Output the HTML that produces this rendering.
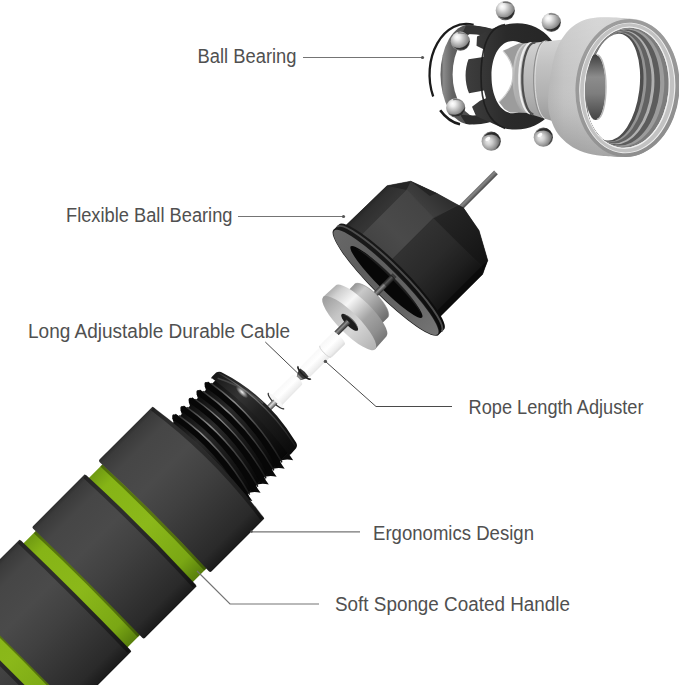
<!DOCTYPE html>
<html lang="en">
<head>
<meta charset="utf-8">
<title>Jump Rope Handle Features</title>
<style>
  html, body { margin: 0; padding: 0; background: #ffffff; }
  body { width: 679px; height: 685px; overflow: hidden; position: relative; }
  svg { position: absolute; left: 0; top: 0; display: block; }
  .lbl { font-family: "Liberation Sans", sans-serif; font-size: 19.5px; fill: #505050; }
  .ln { stroke: #747474; stroke-width: 1.2; fill: none; }
  .dot { fill: #555; }
</style>
</head>
<body>
<svg width="679" height="685" viewBox="0 0 679 685">
<defs>
<!--DEFS-->
<radialGradient id="gBall" cx="0.4" cy="0.56" r="0.62" fx="0.36" fy="0.5">
  <stop offset="0" stop-color="#ececec"/><stop offset="0.3" stop-color="#cfcfcf"/>
  <stop offset="0.62" stop-color="#9a9a9a"/><stop offset="0.86" stop-color="#6c6c6c"/><stop offset="1" stop-color="#3a3a3a"/>
</radialGradient>
<radialGradient id="gBallB" cx="0.4" cy="0.36" r="0.7" fx="0.33" fy="0.28">
  <stop offset="0" stop-color="#ffffff"/><stop offset="0.2" stop-color="#eeeeee"/>
  <stop offset="0.5" stop-color="#b8b8b8"/><stop offset="0.78" stop-color="#858585"/><stop offset="1" stop-color="#444444"/>
</radialGradient>
<linearGradient id="gRace" gradientUnits="userSpaceOnUse" x1="440" y1="0" x2="470" y2="0">
  <stop offset="0" stop-color="#505050"/><stop offset="0.12" stop-color="#8a8a8a"/><stop offset="0.4" stop-color="#646464"/><stop offset="1" stop-color="#484848"/>
</linearGradient>
<linearGradient id="gCage" gradientUnits="userSpaceOnUse" x1="465" y1="0" x2="548" y2="0">
  <stop offset="0" stop-color="#3e3e3e"/><stop offset="0.25" stop-color="#353535"/><stop offset="0.5" stop-color="#2a2a2a"/><stop offset="1" stop-color="#262626"/>
</linearGradient>
<linearGradient id="gNeck" gradientUnits="userSpaceOnUse" x1="0" y1="40" x2="0" y2="121">
  <stop offset="0" stop-color="#d4d4d4"/><stop offset="0.3" stop-color="#c2c2c2"/><stop offset="0.7" stop-color="#b0b0b0"/><stop offset="1" stop-color="#9a9a9a"/>
</linearGradient>
<linearGradient id="gHousing" gradientUnits="userSpaceOnUse" x1="545" y1="0" x2="640" y2="0">
  <stop offset="0" stop-color="#b4b4b4"/><stop offset="0.2" stop-color="#c4c4c4"/><stop offset="0.55" stop-color="#cecece"/><stop offset="1" stop-color="#c8c8c8"/>
</linearGradient>
<linearGradient id="gHousingV" gradientUnits="userSpaceOnUse" x1="0" y1="17" x2="0" y2="157">
  <stop offset="0" stop-color="#ffffff" stop-opacity="0.18"/><stop offset="0.45" stop-color="#ffffff" stop-opacity="0"/>
  <stop offset="0.75" stop-color="#000000" stop-opacity="0.07"/><stop offset="1" stop-color="#000000" stop-opacity="0.2"/>
</linearGradient>
<linearGradient id="gRingFace" gradientUnits="userSpaceOnUse" x1="577" y1="20" x2="678" y2="155">
  <stop offset="0" stop-color="#9e9e9e"/><stop offset="0.5" stop-color="#989898"/><stop offset="1" stop-color="#8a8a8a"/>
</linearGradient>
<linearGradient id="gInner" gradientUnits="userSpaceOnUse" x1="585" y1="0" x2="675" y2="0">
  <stop offset="0" stop-color="#8f8f8f"/><stop offset="0.5" stop-color="#a5a5a5"/><stop offset="0.8" stop-color="#b4b4b4"/><stop offset="1" stop-color="#8c8c8c"/>
</linearGradient>
<linearGradient id="gNeckIn" gradientUnits="userSpaceOnUse" x1="0" y1="54" x2="0" y2="120">
  <stop offset="0" stop-color="#3e3e3e"/><stop offset="0.35" stop-color="#8c8c8c"/><stop offset="0.6" stop-color="#7e7e7e"/><stop offset="1" stop-color="#444444"/>
</linearGradient>

<linearGradient id="gPin" gradientUnits="userSpaceOnUse" x1="0" y1="-4.2" x2="0" y2="1.2">
  <stop offset="0" stop-color="#3c3c3c"/><stop offset="0.4" stop-color="#8e8e8e"/><stop offset="0.7" stop-color="#5a5a5a"/><stop offset="1" stop-color="#2a2a2a"/>
</linearGradient>
<linearGradient id="gPin2" gradientUnits="userSpaceOnUse" x1="0" y1="-1.5" x2="0" y2="4.5">
  <stop offset="0" stop-color="#5a5a5a"/><stop offset="0.4" stop-color="#dcdcdc"/><stop offset="0.75" stop-color="#8a8a8a"/><stop offset="1" stop-color="#333"/>
</linearGradient>
<linearGradient id="gHub" gradientUnits="userSpaceOnUse" x1="0" y1="-22.5" x2="0" y2="22.5">
  <stop offset="0" stop-color="#9a9a9a"/><stop offset="0.2" stop-color="#c9c9c9"/><stop offset="0.45" stop-color="#b0b0b0"/>
  <stop offset="0.75" stop-color="#8c8c8c"/><stop offset="1" stop-color="#6e6e6e"/>
</linearGradient>
<linearGradient id="gDiscSide" gradientUnits="userSpaceOnUse" x1="0" y1="-36.4" x2="0" y2="36.4">
  <stop offset="0" stop-color="#b0b0b0"/><stop offset="0.1" stop-color="#d0d0d0"/><stop offset="0.3" stop-color="#f6f6f6"/>
  <stop offset="0.45" stop-color="#d0d0d0"/><stop offset="0.62" stop-color="#a4a4a4"/><stop offset="0.85" stop-color="#8e8e8e"/><stop offset="1" stop-color="#767676"/>
</linearGradient>
<linearGradient id="gDiscFace" gradientUnits="userSpaceOnUse" x1="0" y1="-36.4" x2="0" y2="36.4">
  <stop offset="0" stop-color="#9c9c9c"/><stop offset="0.3" stop-color="#c4c4c4"/><stop offset="0.6" stop-color="#d6d6d6"/><stop offset="1" stop-color="#b2b2b2"/>
</linearGradient>
<linearGradient id="gTube" gradientUnits="userSpaceOnUse" x1="0" y1="-7" x2="0" y2="10">
  <stop offset="0" stop-color="#f7f7f7"/><stop offset="0.45" stop-color="#ffffff"/><stop offset="0.85" stop-color="#ececec"/><stop offset="1" stop-color="#dadada"/>
</linearGradient>

<linearGradient id="gRod" gradientUnits="userSpaceOnUse" x1="0" y1="-2.7" x2="0" y2="2.5">
  <stop offset="0" stop-color="#6a6a6a"/><stop offset="0.35" stop-color="#868686"/><stop offset="1" stop-color="#484848"/>
</linearGradient>
<linearGradient id="gCapF1" gradientUnits="userSpaceOnUse" x1="0" y1="-69" x2="0" y2="-51">
  <stop offset="0" stop-color="#242424"/><stop offset="0.3" stop-color="#2f2f2f"/><stop offset="1" stop-color="#363636"/>
</linearGradient>
<linearGradient id="gCapF2" gradientUnits="userSpaceOnUse" x1="0" y1="0" x2="77" y2="0">
  <stop offset="0" stop-color="#404040"/><stop offset="0.5" stop-color="#4a4a4a"/><stop offset="1" stop-color="#444444"/>
</linearGradient>
<linearGradient id="gCapF3" gradientUnits="userSpaceOnUse" x1="0" y1="-12" x2="0" y2="56">
  <stop offset="0" stop-color="#323232"/><stop offset="0.45" stop-color="#2a2a2a"/><stop offset="0.8" stop-color="#1e1e1e"/><stop offset="1" stop-color="#141414"/>
</linearGradient>
<linearGradient id="gCapDB" gradientUnits="userSpaceOnUse" x1="76" y1="-30" x2="100" y2="-30">
  <stop offset="0" stop-color="#3e3e3e"/><stop offset="1" stop-color="#2e2e2e"/>
</linearGradient>
<linearGradient id="gCapDC" gradientUnits="userSpaceOnUse" x1="0" y1="-10" x2="0" y2="56">
  <stop offset="0" stop-color="#252525"/><stop offset="0.5" stop-color="#1d1d1d"/><stop offset="1" stop-color="#131313"/>
</linearGradient>
<linearGradient id="gCapRim" gradientUnits="userSpaceOnUse" x1="0" y1="-74" x2="0" y2="74">
  <stop offset="0" stop-color="#1a1a1a"/><stop offset="0.4" stop-color="#161616"/><stop offset="1" stop-color="#0a0a0a"/>
</linearGradient>
<linearGradient id="gCapFace" gradientUnits="userSpaceOnUse" x1="0" y1="-74" x2="0" y2="74">
  <stop offset="0" stop-color="#686868"/><stop offset="0.3" stop-color="#5e5e5e"/><stop offset="0.7" stop-color="#646464"/><stop offset="1" stop-color="#767676"/>
</linearGradient>

<linearGradient id="gFoam" gradientUnits="userSpaceOnUse" x1="0" y1="-78" x2="0" y2="80.3">
  <stop offset="0" stop-color="#2e2e2e"/><stop offset="0.03" stop-color="#3b3b3b"/>
  <stop offset="0.13" stop-color="#464646"/><stop offset="0.34" stop-color="#4a4a4a"/>
  <stop offset="0.55" stop-color="#404040"/><stop offset="0.75" stop-color="#343434"/>
  <stop offset="0.91" stop-color="#2a2a2a"/><stop offset="1" stop-color="#1a1a1a"/>
</linearGradient>
<linearGradient id="gGreen" gradientUnits="userSpaceOnUse" x1="0" y1="-72.5" x2="0" y2="74.6">
  <stop offset="0" stop-color="#6f9a12"/><stop offset="0.12" stop-color="#86b416"/>
  <stop offset="0.5" stop-color="#8bb81a"/><stop offset="0.85" stop-color="#7aa714"/>
  <stop offset="1" stop-color="#587f0c"/>
</linearGradient>
<linearGradient id="gThread" gradientUnits="userSpaceOnUse" x1="0" y1="-54" x2="0" y2="54">
  <stop offset="0" stop-color="#0c0c0c"/><stop offset="0.3" stop-color="#2a2a2a"/>
  <stop offset="0.55" stop-color="#1b1b1b"/><stop offset="1" stop-color="#050505"/>
</linearGradient>
<linearGradient id="gRidge" gradientUnits="userSpaceOnUse" x1="0" y1="-54" x2="0" y2="54">
  <stop offset="0" stop-color="#2a2a2a"/><stop offset="0.28" stop-color="#8c8c8c"/>
  <stop offset="0.55" stop-color="#4a4a4a"/><stop offset="1" stop-color="#141414"/>
</linearGradient>
<radialGradient id="gSpot" cx="0.5" cy="0.5" r="0.5">
  <stop offset="0" stop-color="#ffffff" stop-opacity="0.95"/><stop offset="0.5" stop-color="#ffffff" stop-opacity="0.45"/><stop offset="1" stop-color="#ffffff" stop-opacity="0"/>
</radialGradient>
<linearGradient id="gThreadCap" gradientUnits="userSpaceOnUse" x1="0" y1="-55" x2="0" y2="55">
  <stop offset="0" stop-color="#181818"/><stop offset="0.28" stop-color="#343434"/>
  <stop offset="0.5" stop-color="#202020"/><stop offset="1" stop-color="#0a0a0a"/>
</linearGradient>

</defs>

<!--CAP-->
<g id="cap" transform="translate(388.2,280.2) rotate(-45)">
  <!-- rod out of the top -->
  <rect x="98" y="-2.7" width="54.5" height="5.2" fill="url(#gRod)"/>
  <!-- prism body -->
  <path d="M0 -68.8 L66 -67.6 L86 -54 L95.7 -27.2 L102.5 -4 L104.3 2 L99.4 29 L84.4 56.4 L76.3 60 L71 62.6 L0 62.4 Z" fill="#262626" stroke="#262626" stroke-width="0.5"/>
  <path d="M0 -68.8 L66 -67.6 L77 -51 L77 -51 L0 -51 Z" fill="url(#gCapF1)"/>
  <path d="M0 -51 L77 -51 L76 -12 L0 -12 Z" fill="url(#gCapF2)"/>
  <path d="M0 -12 L76 -12 L76 56 L0 56 Z" fill="url(#gCapF3)"/>
  <path d="M0 56 L76 56 L71 62.6 L0 62.4 Z" fill="#0b0b0b"/>
  <!-- dome facets -->
  <path d="M66 -67.6 L86 -54 L77 -51 Z" fill="#262626"/>
  <path d="M77 -51 L86 -54 L95.7 -27.2 L102.5 -4 L76 -12 Z" fill="url(#gCapDB)"/>
  <path d="M86 -54 L95.7 -27.2 L89 -30 Z" fill="#242424"/>
  <path d="M76 -12 L102.5 -4 L104.3 2 L99.4 29 L84.4 56.4 L76 56 Z" fill="url(#gCapDC)"/>
  <path d="M76 56 L84.4 56.4 L76.3 60 L71 62.6 Z" fill="#090909"/>
  <path d="M76 -12 L102.5 -4" stroke="#3a3a3a" stroke-width="0.7" fill="none"/>
  <path d="M77 -51 L76 -12" stroke="#4a4a4a" stroke-width="0.6" fill="none"/>
  <!-- flange -->
  <path d="M-3 -74.3 L4.6 -74.3 A13.6 74.3 0 0 1 4.6 74.3 L-3 74.3 Z" fill="url(#gCapRim)"/>
  <path d="M1.6 -73.8 A13.4 73.8 0 0 1 1.6 73.8" fill="none" stroke="#585858" stroke-opacity="0.85" stroke-width="2"/>
  <ellipse cx="-3.1" cy="0" rx="13.9" ry="74.3" fill="#1a1a1a"/>
  <ellipse cx="-3.2" cy="0" rx="13.1" ry="73.2" fill="url(#gCapFace)"/>
  <ellipse cx="-2.5" cy="0" rx="7.9" ry="50.4" fill="#070707"/>
  <path d="M-0.5 -44 A5 46 0 0 1 -0.5 46 A8 46 0 0 0 -0.5 -44 Z" fill="#262626" opacity="0.7"/>
</g>

<!--ADJUSTER-->
<g id="adjuster" transform="translate(350.5,321.5) rotate(-45)">
  <!-- pin towards cap -->
  <rect x="30" y="-4.4" width="31" height="5.6" fill="url(#gPin)"/>
  <rect x="50" y="-4.4" width="14" height="5.6" fill="#000" opacity="0.4"/>
  <!-- hub -->
  <path d="M14 -23.6 L29 -23.6 A8.4 23.6 0 0 1 29 23.6 L14 23.6 Z" fill="url(#gHub)"/>
  <path d="M29 -23.6 A8.4 23.6 0 0 1 29 23.6" fill="none" stroke="#8a8a8a" stroke-width="0.8" opacity="0.7"/>
  <!-- disc side -->
  <path d="M-2 -36.8 L15 -36 A9.6 36 0 0 1 15 36 L-2 37 Z" fill="url(#gDiscSide)"/>
  <!-- disc face -->
  <ellipse cx="-2" cy="0.2" rx="10.2" ry="36.9" fill="url(#gDiscFace)"/>
  <ellipse cx="-1.2" cy="0" rx="3.7" ry="11.4" fill="#1c1c1c"/>
  <path d="M-0.4 -9.6 A2.8 10 0 0 1 -0.4 10 A4.4 10 0 0 0 -0.4 -9.6 Z" fill="#5a5a5a" opacity="0.85"/>
  <!-- pin towards handle -->
  <rect x="-18.5" y="-4.3" width="17" height="5.6" fill="url(#gPin)"/>
</g>

<!--CABLE-->
<g id="cable" transform="translate(270.7,404.2) rotate(-45)">
  <!-- white sleeve near adjuster -->
  <path d="M47 -5.4 L75 -5.6 L77 -7 L94.5 -7 A2.6 8.6 0 0 1 94.5 10.2 L77 10 L75 8.6 L47 8.4 A2.4 6.9 0 0 1 47 -5.4 Z" fill="url(#gTube)"/>
  <path d="M76 -6.6 A2.4 8.2 0 0 0 76 9.6" fill="none" stroke="#d2d2d2" stroke-width="0.9"/>
  <!-- small dark clip -->
  <path d="M37 -0.6 L43.5 -4.2 L46.2 -4.4 Q47.8 1.5 46.2 7.4 L43.5 7 L37 3.4 Z" fill="#3a3a3a"/>
  <path d="M37 -0.6 L40.5 -2.4 L40.5 5 L37 3.4 Z" fill="#8a8a8a"/>
  <path d="M46.4 -7.4 A2.8 8.9 0 0 0 46.4 10.4" fill="none" stroke="#1e1e1e" stroke-width="1.5"/>
  <!-- white sleeve near handle -->
  <path d="M5.5 -5.6 L35.8 -5.4 A2.4 6.9 0 0 1 35.8 8.4 L5.5 8.6 Z" fill="url(#gTube)"/>
  <ellipse cx="5.4" cy="1.5" rx="3.2" ry="11" fill="#f6f6f6"/>
  <path d="M6.4 -9.5 A3.2 11 0 0 0 6.4 12.5" fill="none" stroke="#2c2c2c" stroke-width="1.2"/>
  <!-- pin into thread -->
  <rect x="-6" y="-1.5" width="11" height="6" fill="url(#gPin2)"/>
</g>

<!--HANDLE-->
<g id="handle" transform="translate(207.7,461.7) rotate(-45)">
  <g id="thread">
    <rect x="-10" y="-52" width="78" height="103" fill="url(#gThread)"/>
    <g fill="#0b0b0b">
      <path d="M-8 -51.5 Q-5 -58 -3 -58 Q-1 -58 0.5 -51.5 Z"/>
      <path d="M-17.8 50.5 Q-11.8 52.5 -7.700000000000001 59.4 L-6.1000000000000005 50.5 Z"/>
      <path d="M3.5 -51.5 Q6.5 -58 8.5 -58 Q10.5 -58 12.0 -51.5 Z"/>
      <path d="M-6.300000000000001 50.5 Q-0.3000000000000007 52.5 3.7999999999999994 59.4 L5.3999999999999995 50.5 Z"/>
      <path d="M15.100000000000001 -51.5 Q18.1 -58 20.1 -58 Q22.1 -58 23.6 -51.5 Z"/>
      <path d="M5.300000000000001 50.5 Q11.3 52.5 15.4 59.4 L17.0 50.5 Z"/>
      <path d="M26.700000000000003 -51.5 Q29.700000000000003 -58 31.700000000000003 -58 Q33.7 -58 35.2 -51.5 Z"/>
      <path d="M16.900000000000002 50.5 Q22.900000000000002 52.5 27.000000000000004 59.4 L28.6 50.5 Z"/>
      <path d="M37.8 -51.5 Q40.8 -58 42.8 -58 Q44.8 -58 46.3 -51.5 Z"/>
      <path d="M28.0 50.5 Q34.0 52.5 38.1 59.4 L39.7 50.5 Z"/>
      <path d="M49.2 -51.5 Q52.2 -58 54.2 -58 Q56.2 -58 57.7 -51.5 Z"/>
      <path d="M39.400000000000006 50.5 Q45.400000000000006 52.5 49.50000000000001 59.4 L51.10000000000001 50.5 Z"/>
      <path d="M51.4 50.5 Q57.4 52.5 61.5 59.4 L63.1 50.5 Z"/>
    </g>
    <g fill="none">
      <path d="M-3.2 -56 Q7 0 -9.6 53" stroke="#070707" stroke-width="6"/>
      <path d="M8.3 -56 Q18.5 0 1.9000000000000004 53" stroke="#070707" stroke-width="6"/>
      <path d="M19.900000000000002 -56 Q30.1 0 13.500000000000002 53" stroke="#070707" stroke-width="6"/>
      <path d="M31.500000000000004 -56 Q41.7 0 25.1 53" stroke="#070707" stroke-width="6"/>
      <path d="M42.599999999999994 -56 Q52.8 0 36.199999999999996 53" stroke="#070707" stroke-width="6"/>
      <path d="M54.0 -56 Q64.2 0 47.6 53" stroke="#070707" stroke-width="6"/>
      <path d="M0.6000000000000001 -53 Q9.6 0 -5.2 53" stroke="url(#gRidge)" stroke-width="1.5"/>
      <path d="M12.1 -53 Q21.1 0 6.3 53" stroke="url(#gRidge)" stroke-width="1.5"/>
      <path d="M23.700000000000003 -53 Q32.7 0 17.900000000000002 53" stroke="url(#gRidge)" stroke-width="1.5"/>
      <path d="M35.300000000000004 -53 Q44.300000000000004 0 29.500000000000004 53" stroke="url(#gRidge)" stroke-width="1.5"/>
      <path d="M46.4 -53 Q55.4 0 40.599999999999994 53" stroke="url(#gRidge)" stroke-width="1.5"/>
      <path d="M57.800000000000004 -53 Q66.8 0 52.0 53" stroke="url(#gRidge)" stroke-width="1.5"/>
    </g>
    <path d="M62 -56 Q60 -56.5 63 -57 L69 -57 Q72.5 -56 73.5 -52 Q89 -4 76 49 Q75 52.5 72 53 L64 53.5 Q61 53 62.5 51 Q70 0 62 -56 Z" fill="url(#gThreadCap)"/>
    <path d="M70.5 -55 Q85 -2 73 51" fill="none" stroke="url(#gRidge)" stroke-width="1.2"/>
    <ellipse cx="73.5" cy="-25" rx="3.2" ry="8" fill="url(#gSpot)"/>
    <path d="M66 -52 Q78 -30 80.5 -2" fill="none" stroke="#6a6a6a" stroke-opacity="0.5" stroke-width="1.6"/>
  </g>
  <rect x="-420" y="-72.5" width="410" height="147.1" fill="url(#gGreen)"/>
  <path d="M-77.9 -72.5 Q-75.2 0 -77.9 74.6" fill="none" stroke="#1d2b00" stroke-opacity="0.45" stroke-width="3"/>
  <path d="M-172.0 -72.5 Q-169.3 0 -172.0 74.6" fill="none" stroke="#1d2b00" stroke-opacity="0.45" stroke-width="3"/>
  <path d="M-271.2 -72.5 Q-268.5 0 -271.2 74.6" fill="none" stroke="#1d2b00" stroke-opacity="0.45" stroke-width="3"/>
  <path d="M-74.7 -78 L-0.5 -78 Q0.30000000000000004 -78 0.30000000000000004 -73 Q11.3 0 0.30000000000000004 75.3 Q0.30000000000000004 80.3 -0.5 80.3 L-74.7 80.3 Q-76.7 80.3 -76.7 78.3 Q-73.5 0 -76.7 -76 Q-76.7 -78 -74.7 -78 Z" fill="url(#gFoam)"/>
  <path d="M-1.7 -76.5 Q9.3 0 -1.7 78.8" fill="none" stroke="#000" stroke-opacity="0.38" stroke-width="4.2"/>
  <path d="M-168.8 -78 L-96.2 -78 Q-95.4 -78 -95.4 -73 Q-92.2 0 -95.4 75.3 Q-95.4 80.3 -96.2 80.3 L-168.8 80.3 Q-170.8 80.3 -170.8 78.3 Q-169.20000000000002 0 -170.8 -76 Q-170.8 -78 -168.8 -78 Z" fill="url(#gFoam)"/>
  <path d="M-97.4 -76.5 Q-94.2 0 -97.4 78.8" fill="none" stroke="#000" stroke-opacity="0.38" stroke-width="4.2"/>
  <path d="M-268 -78 L-188.6 -78 Q-187.79999999999998 -78 -187.79999999999998 -73 Q-186.2 0 -187.79999999999998 75.3 Q-187.79999999999998 80.3 -188.6 80.3 L-268 80.3 Q-270 80.3 -270 78.3 Q-269.4 0 -270 -76 Q-270 -78 -268 -78 Z" fill="url(#gFoam)"/>
  <path d="M-189.79999999999998 -76.5 Q-188.2 0 -189.79999999999998 78.8" fill="none" stroke="#000" stroke-opacity="0.38" stroke-width="4.2"/>
  <path d="M-428 -78 L-288.5 -78 Q-287.7 -78 -287.7 -73 Q-287.09999999999997 0 -287.7 75.3 Q-287.7 80.3 -288.5 80.3 L-428 80.3 Q-430 80.3 -430 78.3 Q-430 0 -430 -76 Q-430 -78 -428 -78 Z" fill="url(#gFoam)"/>
  <path d="M-289.7 -76.5 Q-289.09999999999997 0 -289.7 78.8" fill="none" stroke="#000" stroke-opacity="0.38" stroke-width="4.2"/>
</g>

<!--BEARING-->
<g id="bearing">
  <!-- C-clip -->
  <path d="M473.6 24.9 A36.6 50.6 0 0 0 433.2 96.5" fill="none" stroke="#1b1b1b" stroke-width="2.3"/>
  <path d="M440.2 110.2 A36.6 50.6 0 0 0 460 124.3" fill="none" stroke="#1b1b1b" stroke-width="2.6"/>
  <!-- outer race ring -->
  <path d="M469.5 24.4 L497 30 L497 120 L469.5 124.4 A29 50 0 0 1 469.5 24.4 Z" fill="url(#gRace)"/>
  <ellipse cx="480" cy="74.4" rx="27.4" ry="43.6" fill="#ffffff"/>
  <path d="M466 25.5 Q485 24.5 500 32 L500 41 Q485 33 462 34 Z" fill="#343434"/>
  <path d="M460 114.5 Q485 118 500 109 L500 118 Q486 126 466 124 Z" fill="#2c2c2c"/>
  <!-- balls on the race -->
  <g transform="translate(460.3 41.2)">
    <circle r="9.6" fill="url(#gBallB)"/>
    <path d="M-7.2 5.4 Q-1 11.2 6.4 6.6 Q9 3.6 9.3 -0.6 Q5.4 6.4 -0.6 6.9 Q-4.4 6.9 -7.2 5.4 Z" fill="#1c1c1c" opacity="0.8"/>
    <path d="M-2.5 -8.9 Q3 -9.6 6.6 -6.4 Q2.6 -8 -2.5 -7.6 Z" fill="#3a3a3a" opacity="0.6"/>
  </g>
  <g transform="translate(455.7 107.8)">
    <circle r="9.6" fill="url(#gBallB)"/>
    <path d="M-7.2 5.4 Q-1 11.2 6.4 6.6 Q9 3.6 9.3 -0.6 Q5.4 6.4 -0.6 6.9 Q-4.4 6.9 -7.2 5.4 Z" fill="#1c1c1c" opacity="0.8"/>
    <path d="M-2.5 -8.9 Q3 -9.6 6.6 -6.4 Q2.6 -8 -2.5 -7.6 Z" fill="#3a3a3a" opacity="0.6"/>
  </g>
  <g transform="translate(0 76) scale(1 1.08) translate(0 -76)">
  <!-- cage (retainer) -->
  <path fill-rule="evenodd" fill="url(#gCage)" d="M505 28.5
    C492 31 484 36 477 39.5 L476.5 48 L482 50.5 L484 51.5 L483.5 58.5 L468.5 60.5
    C464.5 70 464.5 82 469 92 L484 89.5 L486 96.5 L480 99 L472 104.5 L476 113
    C484 116 492 120 505 124.5 C538 131 563 108 563 76 C563 44 538 21 505 28.5 Z
    M513 43.5 C500 43.5 491.5 57 491.5 76 C491.5 95 500 110.5 513 110.5 C526 110.5 536 95 536 76 C536 57 526 43.5 513 43.5 Z"/>
  <path d="M505 28.5 C484 31 481 60 481 76 C481 94 485 118 505 124.5" fill="none" stroke="#1c1c1c" stroke-width="1.6" opacity="0.9"/>
  </g>
  <!-- inner silver ring seen through the cage -->
  <path d="M503 50.8 Q514.2 63 512.9 77 Q512 90 498.9 102 L504.4 109 L510 112.5 L530 113 L530 43 L518.9 43.6 Z" fill="#9c9c9c"/>
  <path d="M503 50.8 Q514.2 63 512.9 77 Q512 90 498.9 102" fill="none" stroke="#d0d0d0" stroke-width="1.2"/>
  <!-- housing neck -->
  <path d="M527 43.5 L566 39.2 L566 125.2 L525 112.5 A13.5 34.5 0 0 1 527 43.5 Z" fill="url(#gNeck)"/>
  <path d="M527.5 43.8 A13 34.4 0 0 0 525.5 112.2 L530 113.6 A12 35 0 0 1 532 43.2 Z" fill="#b0b0b0"/>
  <path d="M532.2 43.2 A12 35.2 0 0 0 530.2 113.6" fill="none" stroke="#eeeeee" stroke-width="2"/>
  <path d="M535.4 42.9 A12 35.6 0 0 0 533.4 114.6" fill="none" stroke="#4e4e4e" stroke-width="2.2"/>
  <path d="M546 41.4 A11 38 0 0 0 543.5 118" fill="none" stroke="#8e8e8e" stroke-width="1.1"/>
  <path d="M547.5 41.2 A11 38 0 0 0 545 118.5" fill="none" stroke="#dcdcdc" stroke-width="1"/>
  <!-- housing body -->
  <path d="M631 18.8 C628.2 18.6 619.7 17.8 614.0 17.6 C608.3 17.4 602.0 17.2 597.0 17.6 C592.0 18.0 587.7 18.8 583.7 20.2 C579.7 21.6 576.2 23.9 573.1 26.2 C570.0 28.5 567.6 31.1 565.2 34.2 C562.8 37.3 560.5 40.8 558.6 44.8 C556.7 48.8 555.1 53.6 553.9 58.0 C552.7 62.4 552.1 66.8 551.3 71.3 C550.5 75.8 549.8 80.2 549.2 85.0 C548.7 89.8 548.0 95.2 548.0 100.0 C548.0 104.8 548.1 108.9 549.4 114.0 C550.7 119.1 553.0 126.0 555.9 130.8 C558.8 135.6 562.5 139.4 566.5 142.7 C570.5 146.0 574.7 148.6 579.8 150.7 C584.9 152.8 591.3 154.3 597.0 155.3 C602.7 156.3 609.9 156.4 614.2 156.7 C618.5 157.0 621.5 156.9 623.0 157.0 A52 69 4 0 0 631 18.8 Z" fill="url(#gHousing)"/>
  <path d="M631 18.8 C628.2 18.6 619.7 17.8 614.0 17.6 C608.3 17.4 602.0 17.2 597.0 17.6 C592.0 18.0 587.7 18.8 583.7 20.2 C579.7 21.6 576.2 23.9 573.1 26.2 C570.0 28.5 567.6 31.1 565.2 34.2 C562.8 37.3 560.5 40.8 558.6 44.8 C556.7 48.8 555.1 53.6 553.9 58.0 C552.7 62.4 552.1 66.8 551.3 71.3 C550.5 75.8 549.8 80.2 549.2 85.0 C548.7 89.8 548.0 95.2 548.0 100.0 C548.0 104.8 548.1 108.9 549.4 114.0 C550.7 119.1 553.0 126.0 555.9 130.8 C558.8 135.6 562.5 139.4 566.5 142.7 C570.5 146.0 574.7 148.6 579.8 150.7 C584.9 152.8 591.3 154.3 597.0 155.3 C602.7 156.3 609.9 156.4 614.2 156.7 C618.5 157.0 621.5 156.9 623.0 157.0 A52 69 4 0 0 631 18.8 Z" fill="url(#gHousingV)"/>
  <!-- front ring face -->
  <ellipse cx="627.5" cy="88" rx="52" ry="69" transform="rotate(4 627.5 88)" fill="url(#gRingFace)"/>
  <ellipse cx="627.3" cy="88" rx="48" ry="65.4" transform="rotate(4 627.3 88)" fill="#f0f0f0"/>
  <ellipse cx="627.2" cy="87.9" rx="47" ry="64.6" transform="rotate(4 627.2 87.9)" fill="#c2c2c2"/>
  <ellipse cx="626.9" cy="87.8" rx="43" ry="61.3" transform="rotate(5 626.9 87.8)" fill="#efefef"/>
  <clipPath id="cpInner"><ellipse cx="626.8" cy="87.7" rx="41.9" ry="60.2" transform="rotate(5 626.8 87.7)"/></clipPath>
  <g clip-path="url(#cpInner)">
    <ellipse cx="626.8" cy="87.7" rx="41.9" ry="60.2" transform="rotate(5.0 626.8 87.7)" fill="#7c7c7c"/>
    <ellipse cx="624.7" cy="87.6" rx="39.4" ry="59.2" transform="rotate(5.3 624.7 87.6)" fill="#9c9c9c"/>
    <ellipse cx="622.8" cy="87.5" rx="37.1" ry="58.2" transform="rotate(5.6 622.8 87.5)" fill="#5c5c5c"/>
    <ellipse cx="620.1" cy="87.4" rx="34.0" ry="57.0" transform="rotate(6.0 620.1 87.4)" fill="#b0b0b0"/>
    <ellipse cx="618.8" cy="87.3" rx="32.4" ry="56.3" transform="rotate(6.2 618.8 87.3)" fill="#626262"/>
    <ellipse cx="616.4" cy="87.2" rx="29.5" ry="55.1" transform="rotate(6.6 616.4 87.2)" fill="#949494"/>
    <ellipse cx="615.1" cy="87.2" rx="27.9" ry="54.5" transform="rotate(6.8 615.1 87.2)" fill="#4e4e4e"/>
    <ellipse cx="613.5" cy="87.1" rx="26" ry="53.7" transform="rotate(7 613.5 87.1)" fill="#ffffff"/>
    <ellipse cx="595.5" cy="87.1" rx="10.2" ry="32.9" fill="url(#gNeckIn)"/>
    <path d="M597 55 A9 32 0 0 1 597 119.2" fill="none" stroke="#b8b8b8" stroke-width="1.4"/>
  </g>
  <!-- loose balls -->
  <g transform="translate(505.3 10.6)">
    <circle r="9.6" fill="url(#gBallB)"/>
    <path d="M-7.2 5.4 Q-1 11.2 6.4 6.6 Q9 3.6 9.3 -0.6 Q5.4 6.4 -0.6 6.9 Q-4.4 6.9 -7.2 5.4 Z" fill="#1c1c1c" opacity="0.8"/>
    <path d="M-2.5 -8.9 Q3 -9.6 6.6 -6.4 Q2.6 -8 -2.5 -7.6 Z" fill="#3a3a3a" opacity="0.6"/>
  </g>
  <g transform="translate(551.3 22.3)">
    <circle r="9.6" fill="url(#gBallB)"/>
    <path d="M-7.2 5.4 Q-1 11.2 6.4 6.6 Q9 3.6 9.3 -0.6 Q5.4 6.4 -0.6 6.9 Q-4.4 6.9 -7.2 5.4 Z" fill="#1c1c1c" opacity="0.8"/>
    <path d="M-2.5 -8.9 Q3 -9.6 6.6 -6.4 Q2.6 -8 -2.5 -7.6 Z" fill="#3a3a3a" opacity="0.6"/>
  </g>
  <g transform="translate(491.2 141.2)">
    <circle r="9.6" fill="url(#gBall)"/>
    <path d="M-7.6 -4.6 Q-3 -10 3.6 -8.6 Q7.8 -6.6 8.9 -1.6 Q5.2 -6.4 0.6 -6.6 Q-4 -6.4 -7.6 -4.6 Z" fill="#1c1c1c" opacity="0.85"/>
    <path d="M6.4 6.6 Q9.6 2.6 9.1 -1.2 Q8.2 3.4 4.6 7.6 Z" fill="#2a2a2a" opacity="0.6"/>
    <ellipse cx="-3.4" cy="-2.2" rx="2.7" ry="1.7" transform="rotate(-32 -3.4 -2.2)" fill="#ffffff" opacity="0.95"/>
  </g>
  <g transform="translate(543.3 137.2)">
    <circle r="9.6" fill="url(#gBall)"/>
    <path d="M-7.6 -4.6 Q-3 -10 3.6 -8.6 Q7.8 -6.6 8.9 -1.6 Q5.2 -6.4 0.6 -6.6 Q-4 -6.4 -7.6 -4.6 Z" fill="#1c1c1c" opacity="0.85"/>
    <path d="M6.4 6.6 Q9.6 2.6 9.1 -1.2 Q8.2 3.4 4.6 7.6 Z" fill="#2a2a2a" opacity="0.6"/>
    <ellipse cx="-3.4" cy="-2.2" rx="2.7" ry="1.7" transform="rotate(-32 -3.4 -2.2)" fill="#ffffff" opacity="0.95"/>
  </g>
</g>

<!-- label leader lines -->
<g id="leaders">
  <path class="ln" d="M303 57.5 H422"/>
  <circle class="dot" cx="422.5" cy="57.5" r="1.6"/>
  <path class="ln" d="M238 216.5 H343"/>
  <circle class="dot" cx="343.5" cy="216.5" r="1.6"/>
  <path class="ln" style="stroke:#333;stroke-width:.9" d="M265.3 342 L298.3 373.7"/>
  <circle class="dot" cx="325.4" cy="361.4" r="1.7"/>
  <path class="ln" style="stroke:#4a4a4a;stroke-width:1" d="M325.4 361.4 L376 406.5 H452"/>
  <path class="ln" d="M251 531.8 H360"/>
  <circle class="dot" cx="251.5" cy="531.5" r="1.2"/>
  <path class="ln" d="M197 571 L230 604 H319"/>
</g>

<!-- labels -->
<g id="labels">
  <text class="lbl" x="197.5" y="62.5" textLength="99" lengthAdjust="spacingAndGlyphs">Ball Bearing</text>
  <text class="lbl" x="66" y="221.5" textLength="166.5" lengthAdjust="spacingAndGlyphs">Flexible Ball Bearing</text>
  <text class="lbl" x="28" y="337.5" textLength="262" lengthAdjust="spacingAndGlyphs">Long Adjustable Durable Cable</text>
  <text class="lbl" x="468.5" y="414" textLength="175" lengthAdjust="spacingAndGlyphs">Rope Length Adjuster</text>
  <text class="lbl" x="373" y="540" textLength="161" lengthAdjust="spacingAndGlyphs">Ergonomics Design</text>
  <text class="lbl" x="335" y="611" textLength="235" lengthAdjust="spacingAndGlyphs">Soft Sponge Coated Handle</text>
</g>
</svg>
</body>
</html>
